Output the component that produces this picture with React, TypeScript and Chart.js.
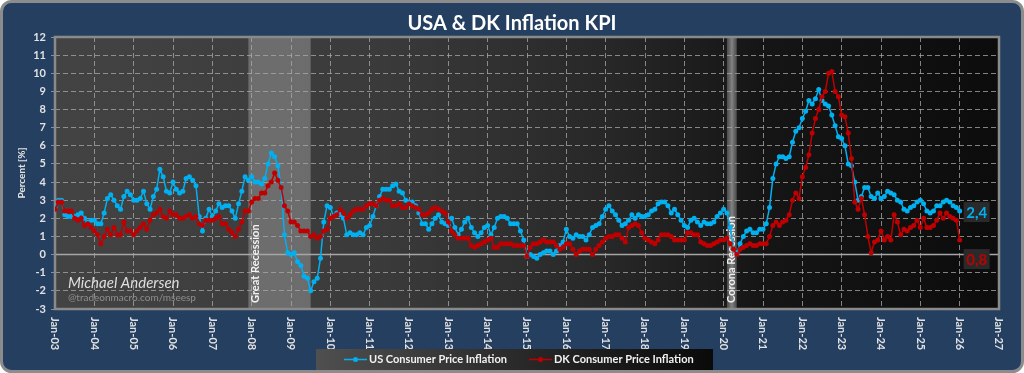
import React, { useEffect, useRef } from "react";
import { Chart, registerables } from "chart.js";

Chart.register(...registerables);

// ---------------- DATA ----------------
const firstYear = 2003;

const yearTickLabels = [
  "Jan-03", "Jan-04", "Jan-05", "Jan-06", "Jan-07", "Jan-08", "Jan-09", "Jan-10", "Jan-11",
  "Jan-12", "Jan-13", "Jan-14", "Jan-15", "Jan-16", "Jan-17", "Jan-18", "Jan-19", "Jan-20",
  "Jan-21", "Jan-22", "Jan-23", "Jan-24", "Jan-25", "Jan-26", "Jan-27",
];

const seriesNames = ["US Consumer Price Inflation", "DK Consumer Price Inflation"];

// monthly YoY %, Jan-2003 .. Jan-2026
const usCpi = [
  2.6, 3.0, 3.0, 2.2, 2.1, 2.1, 2.1, 2.2, 2.3, 2.0, 1.8, 1.9, // 2003
  1.9, 1.7, 1.7, 2.3, 3.1, 3.3, 3.0, 2.7, 2.5, 3.2, 3.5, 3.3, // 2004
  3.0, 3.0, 3.1, 3.5, 2.8, 2.5, 3.2, 3.6, 4.7, 4.3, 3.5, 3.4, // 2005
  4.0, 3.6, 3.4, 3.5, 4.2, 4.3, 4.1, 3.8, 2.1, 1.3, 2.0, 2.5, // 2006
  2.1, 2.4, 2.8, 2.6, 2.7, 2.7, 2.4, 2.0, 2.8, 3.5, 4.3, 4.1, // 2007
  4.3, 4.0, 4.0, 3.9, 4.2, 5.0, 5.6, 5.4, 4.9, 3.7, 1.1, 0.1, // 2008
  0.0, 0.1, -0.4, -0.6, -1.2, -1.3, -2.0, -1.5, -1.3, -0.2, 1.8, 2.7, // 2009
  2.6, 2.1, 2.3, 2.2, 2.0, 1.1, 1.2, 1.1, 1.1, 1.2, 1.1, 1.5, // 2010
  1.6, 2.1, 2.7, 3.2, 3.6, 3.6, 3.6, 3.8, 3.9, 3.5, 3.4, 3.0, // 2011
  2.9, 2.9, 2.7, 2.3, 1.7, 1.7, 1.4, 1.7, 2.0, 2.2, 1.8, 1.7, // 2012
  1.6, 2.0, 1.5, 1.1, 1.4, 1.8, 2.0, 1.5, 1.2, 1.0, 1.2, 1.5, // 2013
  1.6, 1.1, 1.5, 2.0, 2.1, 2.1, 2.0, 1.7, 1.7, 1.7, 1.3, 0.8, // 2014
  -0.1, 0.0, -0.1, -0.2, 0.0, 0.1, 0.2, 0.2, 0.0, 0.2, 0.5, 0.7, // 2015
  1.4, 1.0, 0.9, 1.1, 1.0, 1.0, 0.8, 1.1, 1.5, 1.6, 1.7, 2.1, // 2016
  2.5, 2.7, 2.4, 2.2, 1.9, 1.6, 1.7, 1.9, 2.2, 2.0, 2.2, 2.1, // 2017
  2.1, 2.2, 2.4, 2.5, 2.8, 2.9, 2.9, 2.7, 2.3, 2.5, 2.2, 1.9, // 2018
  1.6, 1.5, 1.9, 2.0, 1.8, 1.6, 1.8, 1.7, 1.7, 1.8, 2.1, 2.3, // 2019
  2.5, 2.3, 1.5, 0.3, 0.1, 0.6, 1.0, 1.3, 1.4, 1.2, 1.2, 1.4, // 2020
  1.4, 1.7, 2.6, 4.2, 5.0, 5.4, 5.4, 5.3, 5.4, 6.2, 6.8, 7.0, // 2021
  7.5, 7.9, 8.5, 8.3, 8.6, 9.1, 8.5, 8.3, 8.2, 7.7, 7.1, 6.5, // 2022
  6.4, 6.0, 5.0, 4.9, 4.0, 3.0, 3.2, 3.7, 3.7, 3.2, 3.1, 3.4, // 2023
  3.1, 3.2, 3.5, 3.4, 3.3, 3.0, 2.9, 2.5, 2.4, 2.6, 2.7, 2.9, // 2024
  3.0, 2.8, 2.4, 2.3, 2.4, 2.7, 2.7, 2.9, 3.0, 2.9, 2.7, 2.6, // 2025
  2.4, // 2026
];

const dkCpi = [
  2.5, 2.9, 2.9, 2.4, 2.4, 2.4, 2.0, 1.9, 2.0, 1.6, 1.7, 1.5, // 2003
  1.3, 1.1, 0.6, 1.0, 1.4, 1.1, 1.5, 1.1, 1.1, 1.8, 1.3, 1.3, // 2004
  1.1, 1.3, 1.5, 1.7, 1.4, 1.9, 2.2, 2.3, 2.5, 2.1, 2.0, 2.4, // 2005
  2.2, 2.2, 2.0, 2.0, 2.1, 2.2, 2.0, 2.1, 1.7, 1.6, 1.9, 1.9, // 2006
  1.9, 2.0, 2.1, 1.7, 1.7, 1.4, 1.2, 1.0, 1.4, 1.8, 2.4, 2.4, // 2007
  2.9, 3.1, 3.1, 3.4, 3.4, 3.8, 4.0, 4.5, 4.1, 3.7, 2.7, 2.4, // 2008
  1.8, 1.8, 1.6, 1.3, 1.3, 1.3, 1.0, 1.1, 0.9, 1.0, 1.3, 1.4, // 2009
  2.0, 2.1, 2.2, 2.5, 2.3, 2.0, 2.2, 2.4, 2.5, 2.5, 2.5, 2.7, // 2010
  2.8, 2.8, 2.7, 3.0, 3.1, 3.0, 3.0, 2.7, 2.7, 2.8, 2.6, 2.6, // 2011
  2.8, 2.7, 2.6, 2.5, 2.2, 2.2, 2.3, 2.5, 2.6, 2.5, 2.4, 2.3, // 2012
  1.8, 1.3, 1.1, 0.9, 0.9, 0.9, 0.9, 0.5, 0.4, 0.5, 0.6, 0.7, // 2013
  0.8, 0.9, 0.4, 0.4, 0.6, 0.6, 0.6, 0.6, 0.5, 0.5, 0.5, 0.5, // 2014
  -0.1, 0.4, 0.6, 0.6, 0.7, 0.8, 0.7, 0.7, 0.7, 0.5, 0.3, 0.4, // 2015
  0.6, 0.6, 0.3, 0.0, 0.2, 0.3, 0.3, 0.3, 0.0, 0.3, 0.5, 0.7, // 2016
  0.9, 1.0, 1.0, 1.1, 1.1, 0.9, 0.7, 1.5, 1.6, 1.7, 1.6, 1.2, // 2017
  0.9, 0.8, 0.7, 0.6, 0.8, 1.1, 1.1, 1.1, 1.0, 0.8, 0.8, 0.8, // 2018
  0.8, 1.2, 1.2, 1.1, 1.1, 0.7, 0.6, 0.5, 0.5, 0.6, 0.7, 0.8, // 2019
  0.8, 0.9, 0.6, 0.3, 0.0, 0.3, 0.4, 0.5, 0.6, 0.5, 0.5, 0.6, // 2020
  0.6, 0.6, 1.0, 1.6, 1.8, 1.6, 1.8, 1.9, 2.2, 3.0, 3.4, 3.1, // 2021
  4.3, 4.8, 5.5, 6.7, 7.5, 8.0, 8.7, 9.0, 10.0, 10.1, 9.0, 8.7, // 2022
  7.7, 7.6, 6.7, 5.3, 2.9, 2.5, 3.1, 2.2, 1.0, 0.1, 0.7, 0.8, // 2023
  1.3, 0.8, 1.0, 0.8, 2.2, 1.8, 1.1, 1.4, 1.3, 1.5, 1.6, 1.9, // 2024
  1.5, 2.0, 1.5, 1.5, 1.6, 1.9, 2.3, 2.0, 2.3, 2.1, 2.0, 1.9, // 2025
  0.8, // 2026
];

const recessionLabels = ["Great Recession", "Corona Recession"];
const recessionStarts = ["2007-12", "2020-02"];
const recessionEnds = ["2009-07", "2020-05"];

const watermarkName = "Michael Andersen";
const watermarkSite = "@tradeonmacro.com/mseesp";
const chartTitle = "USA & DK Inflation KPI";
const yAxisTitle = "Percent [%]";

// ---------------- STYLE ----------------
const US_COLOR = "#00B0F0";
const DK_COLOR = "#C00000";
const NAVY = "#243F60";
const GRID = "rgba(170,170,170,0.75)";
const TEXT = "#e2e2e2";
const FONT = "Lato";

const monthIndex = (s: string) => {
  const [y, m] = s.split("-").map(Number);
  return (y - firstYear) * 12 + (m - 1);
};

const fmt = (v: number) => v.toFixed(1).replace(".", ",");

function roundRect(ctx: CanvasRenderingContext2D, x: number, y: number, w: number, h: number, r: number) {
  ctx.beginPath();
  ctx.moveTo(x + r, y);
  ctx.lineTo(x + w - r, y);
  ctx.arcTo(x + w, y, x + w, y + r, r);
  ctx.lineTo(x + w, y + h - r);
  ctx.arcTo(x + w, y + h, x + w - r, y + h, r);
  ctx.lineTo(x + r, y + h);
  ctx.arcTo(x, y + h, x, y + h - r, r);
  ctx.lineTo(x, y + r);
  ctx.arcTo(x, y, x + r, y, r);
  ctx.closePath();
}

const decorPlugin = {
  id: "decor",
  beforeDraw(chart: any) {
    const { ctx, chartArea: a, scales } = chart;
    const W = chart.width;
    const H = chart.height;
    ctx.save();
    ctx.fillStyle = "#ffffff";
    ctx.fillRect(0, 0, W, H);
    roundRect(ctx, 1.5, 1.5, W - 3, H - 3, 10);
    ctx.fillStyle = NAVY;
    ctx.fill();
    ctx.lineWidth = 3;
    ctx.strokeStyle = "#8c8c8c";
    ctx.stroke();

    // plot background gradient
    const g = ctx.createLinearGradient(a.left, 0, a.right, 0);
    g.addColorStop(0, "#434343");
    g.addColorStop(0.35, "#3a3a3a");
    g.addColorStop(0.6, "#262626");
    g.addColorStop(0.75, "#151515");
    g.addColorStop(1, "#0c0c0c");
    ctx.fillStyle = g;
    ctx.fillRect(a.left, a.top, a.right - a.left, a.bottom - a.top);

    // recession bands
    const xs = scales.x;
    recessionStarts.forEach((s, i) => {
      const x0 = xs.getPixelForValue(monthIndex(s));
      const x1 = xs.getPixelForValue(monthIndex(recessionEnds[i]));
      if (x1 - x0 > 20) {
        ctx.fillStyle = "rgba(128,128,128,0.72)";
      } else {
        const bg = ctx.createLinearGradient(x0, 0, x1, 0);
        bg.addColorStop(0, "rgba(110,110,110,0.6)");
        bg.addColorStop(0.5, "rgba(150,150,150,0.85)");
        bg.addColorStop(1, "rgba(110,110,110,0.6)");
        ctx.fillStyle = bg;
      }
      ctx.fillRect(x0, a.top, x1 - x0, a.bottom - a.top);
    });
    ctx.restore();
  },
  beforeDatasetsDraw(chart: any) {
    const { ctx, chartArea: a, scales } = chart;
    ctx.save();
    const y0 = scales.y.getPixelForValue(0);
    ctx.strokeStyle = "#a6a6a6";
    ctx.lineWidth = 1.5;
    ctx.beginPath();
    ctx.moveTo(a.left, y0);
    ctx.lineTo(a.right, y0);
    ctx.stroke();

    ctx.strokeStyle = "#8a8a8a";
    ctx.lineWidth = 2.5;
    ctx.strokeRect(a.left, a.top, a.right - a.left, a.bottom - a.top);

    // recession labels
    const xs = scales.x;
    ctx.fillStyle = "#f2f2f2";
    ctx.font = `bold 11px ${FONT}`;
    ctx.textAlign = "left";
    ctx.textBaseline = "middle";
    recessionStarts.forEach((s, i) => {
      const x0 = xs.getPixelForValue(monthIndex(s));
      const x1 = xs.getPixelForValue(monthIndex(recessionEnds[i]));
      const tx = x0 + Math.min(7, (x1 - x0) / 2);
      ctx.save();
      ctx.translate(tx, a.bottom - 6);
      ctx.rotate(-Math.PI / 2);
      ctx.fillText(recessionLabels[i], 0, 0);
      ctx.restore();
    });
    ctx.restore();
  },
  afterDraw(chart: any) {
    const { ctx, chartArea: a, scales } = chart;
    const W = chart.width;
    ctx.save();

    // title
    ctx.fillStyle = "#ffffff";
    ctx.font = `bold 20px ${FONT}`;
    ctx.textAlign = "center";
    ctx.textBaseline = "alphabetic";
    ctx.fillText(chartTitle, W / 2, 30);

    // y title
    ctx.save();
    ctx.translate(22, (a.top + a.bottom) / 2);
    ctx.rotate(-Math.PI / 2);
    ctx.font = `bold 10px ${FONT}`;
    ctx.fillStyle = TEXT;
    ctx.textAlign = "center";
    ctx.textBaseline = "middle";
    ctx.fillText(yAxisTitle, 0, 0);
    ctx.restore();

    // x labels (top to bottom)
    ctx.font = `bold 11px ${FONT}`;
    ctx.fillStyle = TEXT;
    yearTickLabels.forEach((lbl, i) => {
      const x = scales.x.getPixelForValue(i * 12);
      ctx.save();
      ctx.translate(x, a.bottom + 8);
      ctx.rotate(Math.PI / 2);
      ctx.textAlign = "left";
      ctx.textBaseline = "middle";
      ctx.fillText(lbl, 0, 0);
      ctx.restore();
    });

    // watermark
    ctx.textAlign = "left";
    ctx.textBaseline = "middle";
    ctx.fillStyle = "#dedede";
    ctx.font = `italic 15px ${FONT}`;
    ctx.fillText(watermarkName, a.left + 13, 283);
    ctx.fillStyle = "#8e8e8e";
    ctx.font = `10px ${FONT}`;
    ctx.fillText(watermarkSite, a.left + 13, 298);

    // end labels
    const last = usCpi.length - 1;
    const lx = scales.x.getPixelForValue(last);
    const drawTag = (text: string, color: string, cy: number) => {
      ctx.fillStyle = "#2a2a2a";
      ctx.fillRect(lx + 4, cy - 10, 26, 20);
      ctx.fillStyle = color;
      ctx.font = `bold 15px ${FONT}`;
      ctx.textAlign = "center";
      ctx.textBaseline = "middle";
      ctx.fillText(text, lx + 17, cy + 1);
    };
    drawTag(fmt(usCpi[last]), US_COLOR, scales.y.getPixelForValue(usCpi[last]) + 1);
    drawTag(fmt(dkCpi[last]), DK_COLOR, scales.y.getPixelForValue(dkCpi[last]) + 19);

    // legend
    const lg = ctx.createLinearGradient(316, 0, 713, 0);
    lg.addColorStop(0, "#4f4f4f");
    lg.addColorStop(0.5, "#2a2a2a");
    lg.addColorStop(1, "#0a0a0a");
    ctx.fillStyle = lg;
    ctx.fillRect(316, 349, 397, 21);
    const items = [
      { x: 344, color: US_COLOR, name: seriesNames[0] },
      { x: 529, color: DK_COLOR, name: seriesNames[1] },
    ];
    items.forEach((it) => {
      const ly = 359.5;
      ctx.strokeStyle = it.color;
      ctx.lineWidth = 1.5;
      ctx.beginPath();
      ctx.moveTo(it.x, ly);
      ctx.lineTo(it.x + 23, ly);
      ctx.stroke();
      ctx.fillStyle = it.color;
      ctx.beginPath();
      ctx.arc(it.x + 11.5, ly, 2.5, 0, Math.PI * 2);
      ctx.fill();
      ctx.fillStyle = "#f2f2f2";
      ctx.font = `bold 11px ${FONT}`;
      ctx.textAlign = "left";
      ctx.textBaseline = "middle";
      ctx.fillText(it.name, it.x + 25, ly);
    });

    ctx.restore();
  },
};

function buildConfig(): any {
  const mk = (vals: number[]) => vals.map((v, i) => ({ x: i, y: v }));
  return {
    type: "line",
    data: {
      datasets: [
        {
          label: seriesNames[0],
          data: mk(usCpi),
          borderColor: US_COLOR,
          backgroundColor: US_COLOR,
          pointBackgroundColor: US_COLOR,
          pointBorderWidth: 0,
          pointRadius: 2.5,
          borderWidth: 1.5,
          tension: 0,
          order: 1,
        },
        {
          label: seriesNames[1],
          data: mk(dkCpi),
          borderColor: DK_COLOR,
          backgroundColor: DK_COLOR,
          pointBackgroundColor: DK_COLOR,
          pointBorderWidth: 0,
          pointRadius: 2.5,
          borderWidth: 1.5,
          tension: 0,
          order: 0,
        },
      ],
    },
    options: {
      animation: false,
      responsive: false,
      devicePixelRatio: 1,
      layout: { padding: { left: 0, top: 37, right: 25, bottom: 0 } },
      plugins: {
        legend: { display: false },
        title: { display: false },
        tooltip: { enabled: false },
      },
      scales: {
        x: {
          type: "linear",
          min: 0,
          max: (yearTickLabels.length - 1) * 12,
          ticks: { stepSize: 12, display: false },
          grid: { color: GRID, lineWidth: 1, drawTicks: false },
          border: { display: false, dash: [5, 3] },
          afterFit: (s: any) => {
            s.height = 64;
          },
        },
        y: {
          min: -3,
          max: 12,
          ticks: {
            stepSize: 1,
            color: TEXT,
            padding: 5,
            font: { family: FONT, weight: "bold", size: 11 },
          },
          grid: {
            color: GRID,
            lineWidth: 1,
            drawTicks: true,
            tickLength: 4,
            tickColor: "#8c8c8c",
          },
          border: { display: false, dash: [5, 3] },
          afterFit: (s: any) => {
            s.width = 55;
          },
        },
      },
    },
    plugins: [decorPlugin],
  };
}

export default function App() {
  const ref = useRef<HTMLCanvasElement>(null);
  useEffect(() => {
    document.body.style.margin = "0";
    let chart: Chart | null = null;
    let cancelled = false;
    const make = () => {
      if (cancelled || !ref.current) return;
      chart = new Chart(ref.current, buildConfig());
    };
    const fonts = (document as any).fonts;
    if (fonts && fonts.load) {
      Promise.all([
        fonts.load(`bold 12px ${FONT}`),
        fonts.load(`italic 14px ${FONT}`),
        fonts.load(`12px ${FONT}`),
      ]).then(make, make);
    } else {
      make();
    }
    return () => {
      cancelled = true;
      if (chart) chart.destroy();
    };
  }, []);
  return (
    <canvas
      ref={ref}
      width={1024}
      height={373}
      style={{ display: "block", width: 1024, height: 373 }}
    />
  );
}
